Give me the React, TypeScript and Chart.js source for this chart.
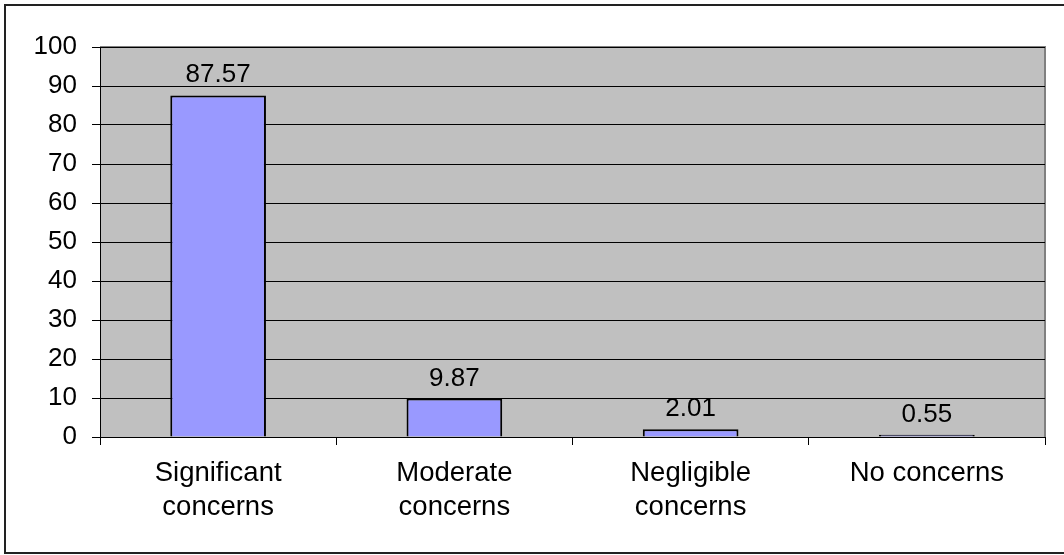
import React, { useEffect, useRef } from "react";
import { Chart, registerables } from "chart.js";

Chart.register(...registerables);

const categories: string[][] = [
  ["Significant", "concerns"],
  ["Moderate", "concerns"],
  ["Negligible", "concerns"],
  ["No concerns"],
];
const percentages: number[] = [87.57, 9.87, 2.01, 0.55];
const yTicks = { min: 0, max: 100, step: 10 };

const FONT_FAMILY = "'Liberation Sans', Arial, Helvetica, sans-serif";
const FONT_SIZE = 26;
const CATEGORY_FONT_SIZE = 27.5;

// Grey plot background with a thin frame on its top and right edges,
// plus the outer border around the whole chart.
const backgroundPlugin = {
  id: "plotBackground",
  beforeDraw(chart: Chart) {
    const { ctx, chartArea } = chart;
    ctx.save();
    ctx.fillStyle = "#ffffff";
    ctx.fillRect(0, 0, chart.width, chart.height);
    ctx.fillStyle = "#C0C0C0";
    ctx.fillRect(
      chartArea.left,
      chartArea.top,
      chartArea.right - chartArea.left,
      chartArea.bottom - chartArea.top
    );
    ctx.strokeStyle = "#808080";
    ctx.lineWidth = 2;
    ctx.beginPath();
    ctx.moveTo(chartArea.left, chartArea.top);
    ctx.lineTo(chartArea.right, chartArea.top);
    ctx.lineTo(chartArea.right, chartArea.bottom);
    ctx.stroke();

    ctx.strokeStyle = "#222222";
    ctx.lineWidth = 2;
    ctx.strokeRect(5, 5, chart.width + 20, chart.height - 7);
    ctx.restore();
  },
};

// Value labels above each bar.
const valueLabelPlugin = {
  id: "valueLabels",
  afterDatasetsDraw(chart: Chart) {
    const { ctx } = chart;
    const meta = chart.getDatasetMeta(0);
    const values = chart.data.datasets[0].data as number[];
    ctx.save();
    ctx.font = `${FONT_SIZE}px ${FONT_FAMILY}`;
    ctx.fillStyle = "#000000";
    ctx.textAlign = "center";
    ctx.textBaseline = "alphabetic";
    meta.data.forEach((bar: any, i: number) => {
      ctx.fillText(values[i].toFixed(2), bar.x, bar.y - 13);
    });
    ctx.restore();
  },
};

export default function App() {
  const canvasRef = useRef<HTMLCanvasElement | null>(null);

  useEffect(() => {
    document.body.style.margin = "0";
    const canvas = canvasRef.current;
    if (!canvas) return;
    const chart = new Chart(canvas, {
      type: "bar",
      data: {
        labels: categories,
        datasets: [
          {
            data: percentages,
            backgroundColor: "#9999FF",
            borderColor: "#000000",
            borderWidth: 2,
            categoryPercentage: 1,
            barPercentage: 0.405,
          },
        ],
      },
      options: {
        animation: false,
        responsive: false,
        devicePixelRatio: 1,
        layout: { padding: { top: 47, right: 19, bottom: 0, left: 0 } },
        plugins: {
          legend: { display: false },
          tooltip: { enabled: false },
        },
        scales: {
          x: {
            grid: {
              offset: true,
              drawOnChartArea: false,
              drawTicks: true,
              tickLength: 8,
              color: "#000000",
              lineWidth: 1,
            },
            border: { display: true, color: "#000000", width: 1 },
            ticks: {
              color: "#000000",
              padding: 11,
              maxRotation: 0,
              autoSkip: false,
              font: { family: FONT_FAMILY, size: CATEGORY_FONT_SIZE, lineHeight: "34px" },
            },
            afterFit(scale: any) {
              scale.height = 118;
            },
          },
          y: {
            min: yTicks.min,
            max: yTicks.max,
            grid: {
              color: "#000000",
              lineWidth: 1,
              drawTicks: true,
              tickLength: 8,
            },
            border: { display: true, color: "#000000", width: 1 },
            ticks: {
              stepSize: yTicks.step,
              color: "#000000",
              padding: 15,
              font: { family: FONT_FAMILY, size: FONT_SIZE },
            },
            afterFit(scale: any) {
              scale.width = 100;
            },
          },
        },
      },
      plugins: [backgroundPlugin, valueLabelPlugin],
    });
    return () => chart.destroy();
  }, []);

  return (
    <div style={{ position: "absolute", left: 0, top: 0, width: 1064, height: 555 }}>
      <canvas ref={canvasRef} width={1064} height={555} />
    </div>
  );
}
